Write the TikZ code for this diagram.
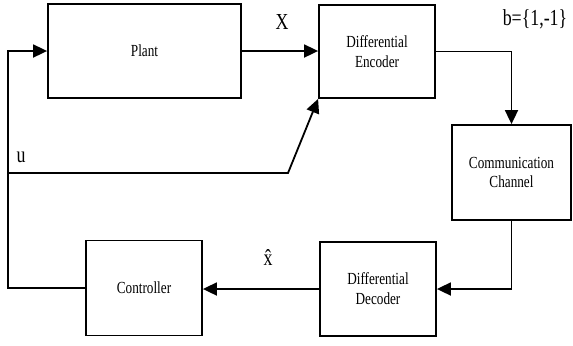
\documentclass[tikz,border=0pt]{standalone}
\usepackage{fontspec}
\setmainfont{Liberation Serif}[FakeStretch=0.78]
\usetikzlibrary{arrows.meta}
\tikzset{
	blk/.style={draw,line width=1.8bp,inner sep=0pt,align=center,font=\fontsize{17}{20}\selectfont},
	sig/.style={line width=1.8bp,-{Triangle[length=14bp,width=13bp]}},
	lbl/.style={inner sep=0pt,font=\fontsize{23}{25}\selectfont}
}
\begin{document}
\begin{tikzpicture}[x=1bp,y=-1bp]
	\useasboundingbox (0,0) rectangle (573,345);
	\node[blk,minimum width=193bp,minimum height=94bp] (plant) at (144.5,51) {Plant};
	\node[blk,minimum width=116bp,minimum height=93bp] (enc) at (377,51.5) {Differential\\Encoder};
	\node[blk,minimum width=119bp,minimum height=95bp] (chan) at (511.5,172.5) {Communication\\Channel};
	\node[blk,minimum width=116bp,minimum height=94bp] (dec) at (378,289) {Differential\\Decoder};
	\node[blk,minimum width=116bp,minimum height=95bp] (ctrl) at (144,288) {Controller};
	\coordinate (fb) at (8,288);
	\coordinate (ustart) at (8,173);
	\coordinate (ubend) at (288,173);
	\draw[sig] (plant.east) -- (plant.east -| enc.west);
	\draw[sig] (enc.east) -| (chan.north);
	\draw[sig] (chan.south) |- (dec.east);
	\draw[sig] (dec.west) -- (dec.west -| ctrl.east);
	\draw[sig] (ctrl.west) -- (fb) |- (plant.west);
	\draw[sig] (ustart) -- (ubend) -- (enc.south west);
	\node[lbl] (xlbl) at (282,22) {X};
	\node[lbl] (ulbl) at (21,157) {u};
	\node[lbl] (xhat) at (268,258) {\^{x}};
	\node[lbl] (blbl) at (535,19) {b=\{1,-1\}};
\end{tikzpicture}
\end{document}
